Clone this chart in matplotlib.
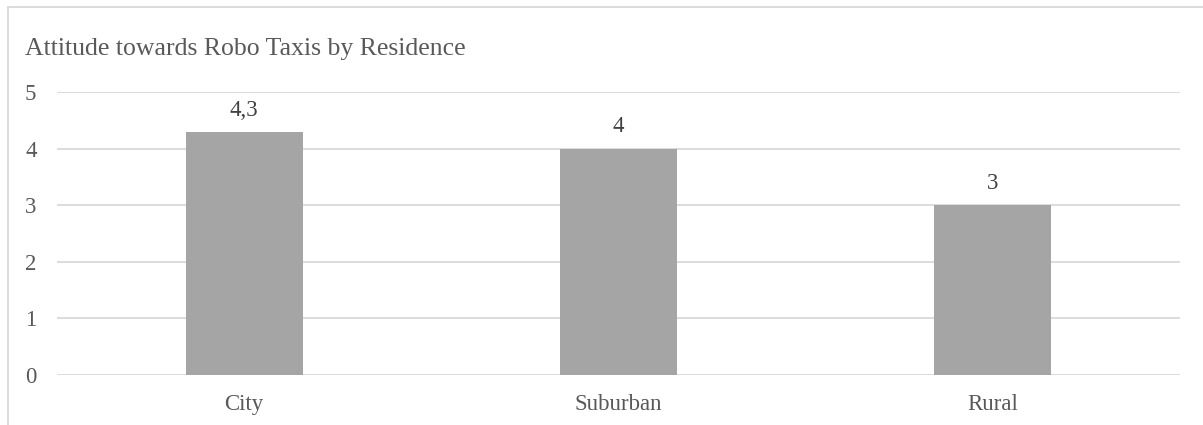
import matplotlib
matplotlib.use("Agg")
import matplotlib.pyplot as plt
from matplotlib.lines import Line2D
import matplotlib.transforms as mtrans

categories = ["City", "Suburban", "Rural"]
values = [4.3, 4, 3]
labels = ["4,3", "4", "3"]
yticks = [0, 1, 2, 3, 4, 5]

plt.rcParams['font.family'] = ['Liberation Serif', 'DejaVu Serif']
txt = '#595959'
grid = '#D9D9D9'

W, H = 1203, 425
fig = plt.figure(figsize=(W/100, H/100), dpi=100)
ax = fig.add_axes([57/W, 1-375/H, (1180-57)/W, (375-92)/H])

x = list(range(len(categories)))
ax.bar(x, values, width=0.313, color='#A5A5A5', zorder=3)
for xi, v, l in zip(x, values, labels):
    ax.annotate(l, (xi, v), xytext=(0, 8), textcoords='offset points',
                ha='center', va='bottom', fontsize=16.5, color='#404040')

ax.set_xlim(-0.5, 2.5)
ax.set_ylim(0, 5)
ax.set_yticks(yticks)
ax.set_xticks(x)
ax.set_xticklabels(categories)
ax.tick_params(axis='both', length=0, labelsize=16.5, labelcolor=txt)
ax.tick_params(axis='x', pad=14)
ax.tick_params(axis='y', pad=0)
ax.grid(axis='y', color=grid, linewidth=1.3, zorder=0)
for s in ax.spines.values():
    s.set_visible(False)
off = mtrans.ScaledTranslation(-32/100, 0, fig.dpi_scale_trans)
for t in ax.get_yticklabels():
    t.set_ha('left')
    t.set_transform(t.get_transform() + off)

fig.text(25/W, 1-49/H, "Attitude towards Robo Taxis by Residence", fontsize=18.5,
         color=txt, ha='left', va='center')

fig.add_artist(Line2D([8/W, 1], [1-7/H, 1-7/H], transform=fig.transFigure, color=grid, linewidth=1.3))
fig.add_artist(Line2D([8/W, 8/W], [0, 1-7/H], transform=fig.transFigure, color=grid, linewidth=1.3))

fig.savefig("out.png", dpi=100)
